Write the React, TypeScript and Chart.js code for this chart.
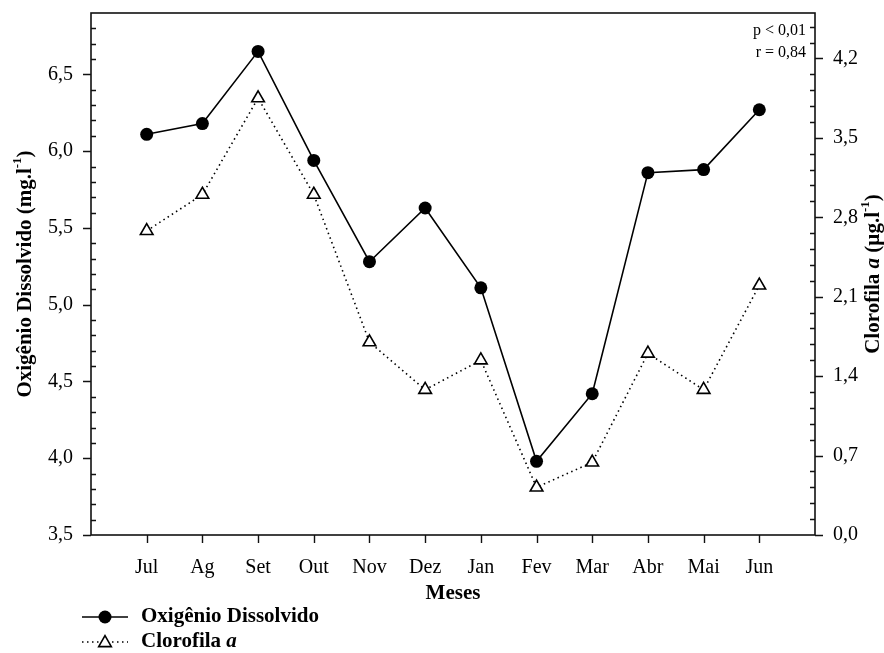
import { useEffect, useRef } from "react";
import { Chart, registerables } from "chart.js";

Chart.register(...registerables);

// Monthly means: dissolved oxygen (left axis) and chlorophyll a (right axis)
const MONTHS = ["Jul", "Ag", "Set", "Out", "Nov", "Dez", "Jan", "Fev", "Mar", "Abr", "Mai", "Jun"];
const OXYGEN = [6.11, 6.18, 6.65, 5.94, 5.28, 5.63, 5.11, 3.98, 4.42, 5.86, 5.88, 6.27];
const CHLOROPHYLL = [2.68, 3.0, 3.85, 3.0, 1.7, 1.28, 1.54, 0.42, 0.64, 1.6, 1.28, 2.2];

const OXYGEN_TICKS = [3.5, 4.0, 4.5, 5.0, 5.5, 6.0, 6.5];
const CHLOROPHYLL_TICKS = [0, 0.7, 1.4, 2.1, 2.8, 3.5, 4.2];
const OXYGEN_RANGE = [3.5, 6.9];
const CHLOROPHYLL_RANGE = [0, 4.6];

const STATS = ["p < 0,01", "r = 0,84"];
const OXYGEN_LABEL = "Oxigênio Dissolvido";
const CHLOROPHYLL_LABEL = "Clorofila";
const X_TITLE = "Meses";

const WIDTH = 884;
const HEIGHT = 653;
const SERIF = '"Liberation Serif", "Times New Roman", serif';

const fmt = (v: number) => v.toFixed(1).replace(".", ",");

function minorTicks(majors: number[], max: number): number[] {
  const out: number[] = [];
  const step = (majors[1] - majors[0]) / 5;
  for (let i = 0; i < majors.length - 1; i++) {
    for (let k = 1; k < 5; k++) out.push(majors[i] + k * step);
  }
  let v = majors[majors.length - 1] + step;
  while (v < max - 1e-6) {
    out.push(v);
    v += step;
  }
  return out;
}

type Piece = { text: string; italic?: boolean; sup?: boolean };

function drawRich(ctx: CanvasRenderingContext2D, pieces: Piece[], x: number, y: number, size: number, align: "left" | "center") {
  const fontFor = (p: Piece) =>
    `${p.italic ? "italic " : ""}bold ${p.sup ? Math.round(size * 0.6) : size}px ${SERIF}`;
  let total = 0;
  const widths = pieces.map((p) => {
    ctx.font = fontFor(p);
    const w = ctx.measureText(p.text).width;
    total += w;
    return w;
  });
  let cx = align === "center" ? x - total / 2 : x;
  ctx.textAlign = "left";
  ctx.textBaseline = "middle";
  pieces.forEach((p, i) => {
    ctx.font = fontFor(p);
    ctx.fillText(p.text, cx, p.sup ? y - size * 0.38 : y);
    cx += widths[i];
  });
}

function drawTriangle(ctx: CanvasRenderingContext2D, x: number, y: number, r: number) {
  ctx.beginPath();
  let rad = 0;
  ctx.moveTo(x + Math.sin(rad) * r, y - Math.cos(rad) * r);
  rad += (2 * Math.PI) / 3;
  ctx.lineTo(x + Math.sin(rad) * r, y - Math.cos(rad) * r);
  rad += (2 * Math.PI) / 3;
  ctx.lineTo(x + Math.sin(rad) * r, y - Math.cos(rad) * r);
  ctx.closePath();
  ctx.fillStyle = "#fff";
  ctx.fill();
  ctx.stroke();
}

const framePlugin = {
  id: "frameAndTicks",
  beforeDatasetsDraw(chart: any) {
    const { ctx, chartArea: a, scales } = chart;
    const yL = scales.y;
    const yR = scales.y1;
    const x = scales.x;
    ctx.save();
    ctx.strokeStyle = "#111";
    ctx.lineWidth = 1.6;
    ctx.strokeRect(a.left, a.top, a.right - a.left, a.bottom - a.top);

    ctx.lineWidth = 1.4;
    ctx.beginPath();
    OXYGEN_TICKS.forEach((v) => {
      const py = Math.round(yL.getPixelForValue(v)) + 0.5;
      ctx.moveTo(a.left - 8, py);
      ctx.lineTo(a.left, py);
    });
    minorTicks(OXYGEN_TICKS, OXYGEN_RANGE[1]).forEach((v) => {
      const py = Math.round(yL.getPixelForValue(v)) + 0.5;
      ctx.moveTo(a.left, py);
      ctx.lineTo(a.left + 5, py);
    });
    CHLOROPHYLL_TICKS.forEach((v) => {
      const py = Math.round(yR.getPixelForValue(v)) + 0.5;
      ctx.moveTo(a.right, py);
      ctx.lineTo(a.right + 8, py);
    });
    minorTicks(CHLOROPHYLL_TICKS, CHLOROPHYLL_RANGE[1]).forEach((v) => {
      const py = Math.round(yR.getPixelForValue(v)) + 0.5;
      ctx.moveTo(a.right - 5, py);
      ctx.lineTo(a.right, py);
    });
    MONTHS.forEach((_, i) => {
      const px = Math.round(x.getPixelForValue(i + 1)) + 0.5;
      ctx.moveTo(px, a.bottom);
      ctx.lineTo(px, a.bottom + 8);
    });
    ctx.stroke();
    ctx.restore();
  },
  afterDraw(chart: any) {
    const { ctx, chartArea: a } = chart;
    ctx.save();
    ctx.fillStyle = "#000";
    ctx.strokeStyle = "#000";

    // statistics, top-right corner of the plot
    ctx.font = `16px ${SERIF}`;
    ctx.textAlign = "right";
    ctx.textBaseline = "middle";
    ctx.fillText(STATS[0], a.right - 9, a.top + 18);
    ctx.fillText(STATS[1], a.right - 9, a.top + 40);

    // x-axis title
    ctx.font = `bold 21px ${SERIF}`;
    ctx.textAlign = "center";
    ctx.fillText(X_TITLE, (a.left + a.right) / 2, 594);

    // left axis title
    ctx.save();
    ctx.translate(26, (a.top + a.bottom) / 2);
    ctx.rotate(-Math.PI / 2);
    drawRich(ctx, [
      { text: `${OXYGEN_LABEL} (mg.l` },
      { text: "-1", sup: true },
      { text: ")" },
    ], 0, 0, 21, "center");
    ctx.restore();

    // right axis title
    ctx.save();
    ctx.translate(874, (a.top + a.bottom) / 2);
    ctx.rotate(-Math.PI / 2);
    drawRich(ctx, [
      { text: `${CHLOROPHYLL_LABEL} ` },
      { text: "a", italic: true },
      { text: " (µg.l" },
      { text: "-1", sup: true },
      { text: ")" },
    ], 0, 0, 21, "center");
    ctx.restore();

    // legend
    const lx0 = 82;
    const lx1 = 128;
    const mx = 105;
    const tx = 141;
    const r1 = 617;
    const r2 = 642;
    ctx.lineWidth = 1.6;
    ctx.beginPath();
    ctx.moveTo(lx0, r1);
    ctx.lineTo(lx1, r1);
    ctx.stroke();
    ctx.beginPath();
    ctx.arc(mx, r1, 6.5, 0, Math.PI * 2);
    ctx.fill();

    ctx.setLineDash([1.5, 3.5]);
    ctx.beginPath();
    ctx.moveTo(lx0, r2);
    ctx.lineTo(lx1, r2);
    ctx.stroke();
    ctx.setLineDash([]);
    drawTriangle(ctx, mx, r2 + 1, 7.3);
    ctx.fillStyle = "#000";

    drawRich(ctx, [{ text: OXYGEN_LABEL }], tx, r1, 21, "left");
    drawRich(ctx, [{ text: `${CHLOROPHYLL_LABEL} ` }, { text: "a", italic: true }], tx, r2, 21, "left");
    ctx.restore();
  },
};

export default function App() {
  const ref = useRef<HTMLCanvasElement>(null);

  useEffect(() => {
    if (!ref.current) return;
    const tickFont = { family: SERIF, size: 20 };
    const chart = new Chart(ref.current, {
      type: "line",
      data: {
        datasets: [
          {
            label: OXYGEN_LABEL,
            data: OXYGEN.map((y, i) => ({ x: i + 1, y })),
            yAxisID: "y",
            borderColor: "#000",
            borderWidth: 1.6,
            pointStyle: "circle",
            pointRadius: 6.5,
            pointBackgroundColor: "#000",
            pointBorderColor: "#000",
            pointBorderWidth: 0,
            tension: 0,
          },
          {
            label: CHLOROPHYLL_LABEL,
            data: CHLOROPHYLL.map((y, i) => ({ x: i + 1, y })),
            yAxisID: "y1",
            borderColor: "#000",
            borderWidth: 1.6,
            borderDash: [1.5, 3.5],
            pointStyle: "triangle",
            pointRadius: 7.3,
            pointBackgroundColor: "#fff",
            pointBorderColor: "#000",
            pointBorderWidth: 1.6,
            tension: 0,
          },
        ],
      },
      options: {
        responsive: false,
        animation: false,
        layout: { padding: { top: 13, left: 0, right: 0, bottom: 0 } },
        plugins: { legend: { display: false }, tooltip: { enabled: false } },
        scales: {
          x: {
            type: "linear",
            min: 0,
            max: MONTHS.length + 1,
            afterBuildTicks: (s: any) => {
              s.ticks = MONTHS.map((_, i) => ({ value: i + 1 }));
            },
            afterFit: (s: any) => {
              s.height = HEIGHT - 535;
              s.paddingLeft = 0;
              s.paddingRight = 0;
            },
            ticks: {
              autoSkip: false,
              maxRotation: 0,
              padding: 21,
              color: "#000",
              font: tickFont,
              callback: (v: any) => MONTHS[Number(v) - 1] ?? "",
            },
            grid: { display: false, drawTicks: false },
            border: { display: false },
          },
          y: {
            position: "left",
            min: OXYGEN_RANGE[0],
            max: OXYGEN_RANGE[1],
            afterBuildTicks: (s: any) => {
              s.ticks = OXYGEN_TICKS.map((v) => ({ value: v }));
            },
            afterFit: (s: any) => {
              s.width = 91;
              s.paddingTop = 0;
              s.paddingBottom = 0;
            },
            ticks: { padding: 18, color: "#000", font: tickFont, callback: (v: any) => fmt(Number(v)) },
            grid: { display: false, drawTicks: false },
            border: { display: false },
          },
          y1: {
            position: "right",
            min: CHLOROPHYLL_RANGE[0],
            max: CHLOROPHYLL_RANGE[1],
            afterBuildTicks: (s: any) => {
              s.ticks = CHLOROPHYLL_TICKS.map((v) => ({ value: v }));
            },
            afterFit: (s: any) => {
              s.width = WIDTH - 815;
              s.paddingTop = 0;
              s.paddingBottom = 0;
            },
            ticks: { padding: 18, color: "#000", font: tickFont, callback: (v: any) => fmt(Number(v)) },
            grid: { display: false, drawTicks: false },
            border: { display: false },
          },
        },
      },
      plugins: [framePlugin],
    });
    return () => chart.destroy();
  }, []);

  return (
    <div style={{ position: "fixed", left: 0, top: 0, width: WIDTH, height: HEIGHT, background: "#fff" }}>
      <canvas ref={ref} width={WIDTH} height={HEIGHT} style={{ display: "block" }} />
    </div>
  );
}
